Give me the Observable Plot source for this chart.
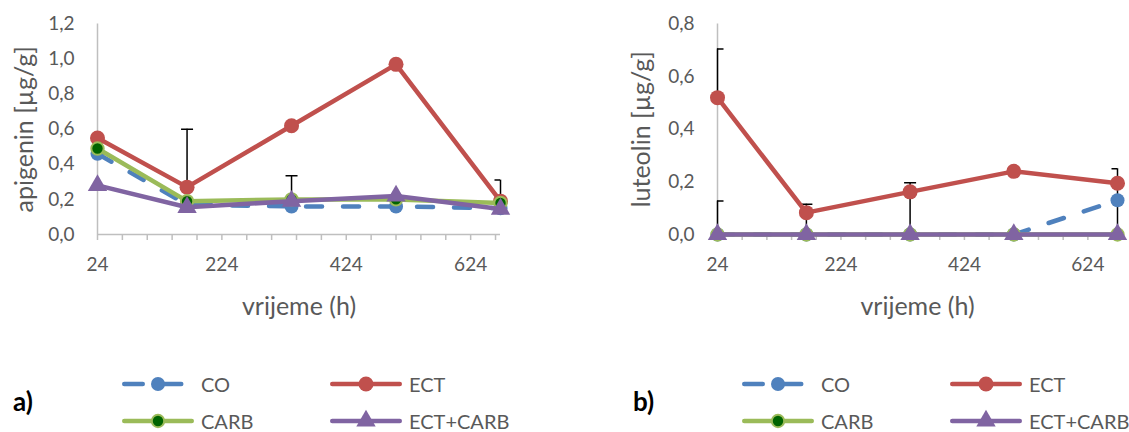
<!DOCTYPE html>
<html><head><meta charset="utf-8">
<script src="https://cdn.jsdelivr.net/npm/d3@7"></script>
<script src="https://cdn.jsdelivr.net/npm/@observablehq/plot@0.6"></script>
<style>
body{margin:0;background:#fff;font-family:Lato,sans-serif;}
#wrap{position:relative;width:1129px;height:432px;overflow:hidden;background:#fff;}
.panel{position:absolute;top:0;}
.leg{position:absolute;display:flex;align-items:center;font-size:20px;color:#595959;white-space:nowrap;line-height:1;}
.leg svg{margin-right:7px;overflow:visible;}
.tag{position:absolute;font-weight:bold;font-size:26px;color:#000;line-height:1;}
</style></head><body><div id="wrap"></div>
<script>
const times = [24, 168, 336, 504, 672];
const seriesNames = ["CO", "ECT", "CARB", "ECT+CARB"];
const seriesColors = ["#4f81bd", "#c0504d", "#9bbb59", "#8064a2"];

const apigeninCO = [0.46, 0.17, 0.16, 0.16, 0.15];
const apigeninECT = [0.55, 0.27, 0.62, 0.97, 0.19];
const apigeninCARB = [0.49, 0.19, 0.20, 0.20, 0.18];
const apigeninECTCARB = [0.28, 0.155, 0.19, 0.22, 0.145];

const luteolinCO = [0, 0, 0, 0, 0.13];
const luteolinECT = [0.52, 0.083, 0.162, 0.24, 0.195];
const luteolinCARB = [0, 0, 0, 0, 0];
const luteolinECTCARB = [0, 0, 0, 0, 0];

const apigeninErrX = [168, 336, 672];
const apigeninErrLow = [0.27, 0.19, 0.18];
const apigeninErrHigh = [0.60, 0.335, 0.31];

const luteolinErrX = [24, 24, 168, 336, 672];
const luteolinErrLow = [0.52, 0, 0, 0, 0];
const luteolinErrHigh = [0.705, 0.127, 0.115, 0.197, 0.25];

const xTicks = [24, 224, 424, 624];
const minorTicks = d3.range(24, 673, 40);
const apigeninYTicks = [0, 0.2, 0.4, 0.6, 0.8, 1.0, 1.2];
const luteolinYTicks = [0, 0.2, 0.4, 0.6, 0.8];
const xTitle = "vrijeme (h)";
const panelTags = ["a)", "b)"];

const capSymbol = {draw(ctx, size) { const r = Math.sqrt(size / Math.PI); ctx.moveTo(-r, 0); ctx.lineTo(r, 0); }};
const markerStyle = [
  {symbol: "circle", r: 7, fill: seriesColors[0], stroke: "none"},
  {symbol: "circle", r: 7.5, fill: seriesColors[1], stroke: "none"},
  {symbol: "circle", r: 6.2, fill: "#006400", stroke: seriesColors[2], strokeWidth: 2},
  {symbol: "triangle", r: 7.2, fill: seriesColors[3], stroke: "none"}
];
const fmt = d => d3.format(".1f")(d).replace(".", ",");

function panel({values, errX, errLow, errHigh, yMax, yTicks, yTitle, width, marginRight, titleOffset}) {
  const err = errX.map((x, i) => ({x, lo: errLow[i], hi: errHigh[i]}));
  const marks = [
    Plot.ruleY([0], {stroke: "#bfbfbf", strokeWidth: 1.5}),
    Plot.ruleX([24], {y1: 0, y2: yMax, stroke: "#bfbfbf", strokeWidth: 1.5}),
    Plot.axisX({ticks: minorTicks, tickSize: 6, tickFormat: () => "", stroke: "#bfbfbf", strokeWidth: 1.5, label: null}),
    Plot.axisX({ticks: xTicks, tickSize: 0, tickPadding: 23, fontSize: 19, color: "#595959", label: null}),
    Plot.axisY({ticks: yTicks, tickSize: 0, tickPadding: 23, fontSize: 19, color: "#595959", tickFormat: fmt, label: null}),
    Plot.text([yTitle], {text: d => d, frameAnchor: "left", textAnchor: "middle", lineAnchor: "middle", dx: -titleOffset, rotate: -90, fontSize: 25, fill: "#595959"}),
    Plot.text([xTitle], {text: d => d, frameAnchor: "bottom", textAnchor: "middle", lineAnchor: "middle", dy: 72, fontSize: 25, fill: "#595959"}),
    Plot.ruleX(err, {x: "x", y1: "lo", y2: "hi", stroke: "black", strokeWidth: 1.5}),
    Plot.dot(err, {x: "x", y: "hi", symbol: capSymbol, r: 6, stroke: "black", strokeWidth: 1.5, fill: "none", clip: true})
  ];
  seriesNames.forEach((s, i) => {
    const d = times.map((t, j) => ({t, v: values[i][j]}));
    marks.push(Plot.line(d, {x: "t", y: "v", stroke: seriesColors[i], strokeWidth: 4.5,
      strokeDasharray: i === 0 ? "16,21" : null, strokeLinecap: "round", strokeLinejoin: "round"}));
    marks.push(Plot.dot(d, {x: "t", y: "v", ...markerStyle[i]}));
  });
  return Plot.plot({
    width, height: 330,
    marginTop: 23.5, marginBottom: 96, marginLeft: 97, marginRight,
    x: {domain: [24, 672]},
    y: {domain: [0, yMax]},
    style: {fontFamily: "Lato, sans-serif", background: "transparent", overflow: "visible"},
    marks
  });
}

const wrap = document.getElementById("wrap");
const panels = [
  {values: [apigeninCO, apigeninECT, apigeninCARB, apigeninECTCARB], errX: apigeninErrX, errLow: apigeninErrLow, errHigh: apigeninErrHigh,
   yMax: 1.2, yTicks: apigeninYTicks, yTitle: "apigenin [µg/g]", width: 620, marginRight: 120, titleOffset: 73, left: 0},
  {values: [luteolinCO, luteolinECT, luteolinCARB, luteolinECTCARB], errX: luteolinErrX, errLow: luteolinErrLow, errHigh: luteolinErrHigh,
   yMax: 0.8, yTicks: luteolinYTicks, yTitle: "luteolin [µg/g]", width: 509, marginRight: 12, titleOffset: 76, left: 620}
];
const legendPos = [[122, 384], [330, 384], [122, 421], [330, 421]];

panels.forEach((p, k) => {
  const el = panel(p);
  el.classList.add("panel");
  el.style.left = p.left + "px";
  wrap.appendChild(el);

  const tag = document.createElement("div");
  tag.className = "tag";
  tag.textContent = panelTags[k];
  tag.style.left = (13 + p.left) + "px";
  tag.style.top = (401 - 13) + "px";
  wrap.appendChild(tag);

  seriesNames.forEach((s, i) => {
    const item = document.createElement("div");
    item.className = "leg";
    item.style.left = (legendPos[i][0] + p.left) + "px";
    item.style.top = (legendPos[i][1] - 10) + "px";
    const svg = d3.create("svg").attr("width", 72).attr("height", 20);
    if (i === 0) {
      svg.append("line").attr("x1", 2.25).attr("x2", 60.75).attr("y1", 10).attr("y2", 10)
        .attr("stroke", seriesColors[i]).attr("stroke-width", 4.5).attr("stroke-linecap", "round").attr("stroke-dasharray", "18.5,20");
    } else {
      svg.append("line").attr("x1", 2.25).attr("x2", 69.75).attr("y1", 10).attr("y2", 10)
        .attr("stroke", seriesColors[i]).attr("stroke-width", 4.5).attr("stroke-linecap", "round");
    }
    const m = markerStyle[i];
    const sym = m.symbol === "triangle" ? d3.symbolTriangle : d3.symbolCircle;
    svg.append("path").attr("transform", "translate(36,10)")
      .attr("d", d3.symbol(sym, Math.PI * m.r * m.r)())
      .attr("fill", m.fill).attr("stroke", m.stroke).attr("stroke-width", m.strokeWidth || 0);
    item.appendChild(svg.node());
    const span = document.createElement("span");
    span.textContent = s;
    item.appendChild(span);
    wrap.appendChild(item);
  });
});
</script></body></html>
